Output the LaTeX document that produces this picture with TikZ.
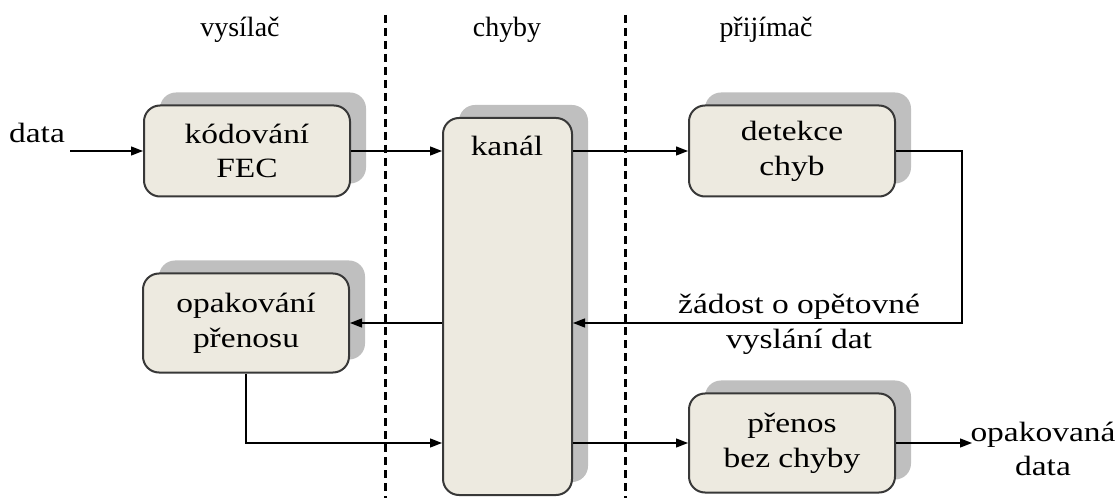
\documentclass[tikz,border=0pt]{standalone}
\usepackage{fontspec}
\setmainfont[FakeStretch=1.2]{Liberation Serif}
\newfontfamily\nadpisfont{Liberation Serif}
\usetikzlibrary{arrows.meta,positioning,shadows}

\definecolor{boxfill}{HTML}{EDEAE0}
\definecolor{boxline}{HTML}{383838}

\tikzset{
  blok/.style={draw=boxline, line width=2bp, fill=boxfill, rounded corners=16bp,
    minimum width=206bp, minimum height=91bp, align=center, inner sep=0pt,
    drop shadow={shadow xshift=16bp, shadow yshift=13bp, fill=black!25, opacity=1}},
  sipka/.style={-{Triangle[length=12bp,width=9bp]}, line width=1.3bp},
  hranice/.style={dash pattern=on 8bp off 5bp, line width=3bp},
  nadpis/.style={font=\nadpisfont\fontsize{28}{34}\selectfont},
}

\begin{document}
\begin{tikzpicture}[x=1bp, y=-1bp, font=\fontsize{28}{35}\selectfont]
  \useasboundingbox (0,0) rectangle (1116,498);

  % hranice mezi casti
  \foreach \x in {385,625}
    \draw [hranice] (\x,15) -- (\x,498);

  % nadpisy
  \node (vysilac) [nadpis] at (240,30) {vysílač};
  \node (chyby) [nadpis] at (507,30) {chyby};
  \node (prijimac) [nadpis] at (766,30) {přijímač};

  % bloky
  \node (kodovani) [blok] at (247,151) {kódování\\FEC};
  \node (detekce) [blok] at (792,151) {detekce\\chyb};
  \node (opakovani) [blok, minimum height=99bp] at (246,323) {opakování\\přenosu};
  \node (prenos) [blok, minimum height=99bp] at (792,443) {přenos\\bez chyby};
  \node (kanal) [blok, minimum width=129bp, minimum height=377bp] at (507.5,306.5) {};
  \node (kanalnapis) at (507,146) {kanál};

  % vstup a vystup
  \coordinate (vstup) at (70,151);
  \node (data) at (37,133) {data};
  \coordinate (vystup) at (972,443);
  \node (opakdata) [align=center] at (1043,449) {opakovaná\\data};
  \coordinate (zlom) at (962,323);

  % spoje
  \draw [sipka] (vstup) -- (kodovani);
  \draw [sipka] (kodovani) -- (kodovani -| kanal.west);
  \draw [sipka] (detekce -| kanal.east) -- (detekce);
  \draw [sipka] (detekce.east) -| (zlom) -- (zlom -| kanal.east);
  \node (zadost) [align=center] at (799,324) {žádost o opětovné\\vyslání dat};
  \draw [sipka] (opakovani -| kanal.west) -- (opakovani);
  \draw [sipka] (opakovani.south) |- (prenos -| kanal.west);
  \draw [sipka] (prenos -| kanal.east) -- (prenos);
  \draw [sipka] (prenos) -- (vystup);
\end{tikzpicture}
\end{document}
